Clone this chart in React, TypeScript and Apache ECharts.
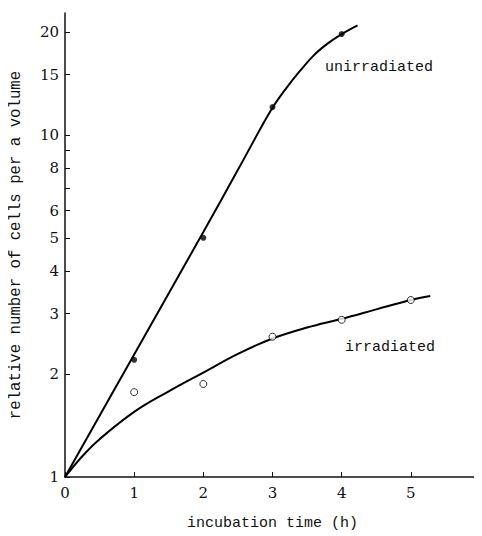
import React, { useEffect, useRef } from "react";
import * as echarts from "echarts";

// measured points
const xHours = [1, 2, 3, 4, 5];
const unirradiatedPoints = [2.2, 5.0, 12.05, 19.7];
const irradiatedPoints = [1.77, 1.87, 2.57, 2.88, 3.29];

// fitted curves
const unirradiatedCurveX = [0, 1, 2, 2.5, 2.8, 3.0, 3.2, 3.4, 3.6, 3.8, 4.0, 4.23];
const unirradiatedCurveY = [1, 2.28, 5.2, 7.9, 10.2, 12.0, 13.7, 15.4, 17.1, 18.5, 19.7, 20.9];
const irradiatedCurveX = [0, 0.25, 0.5, 1, 1.5, 2, 2.5, 3, 3.5, 4, 4.5, 5, 5.28];
const irradiatedCurveY = [1, 1.15, 1.29, 1.55, 1.78, 2.02, 2.29, 2.54, 2.735, 2.9, 3.09, 3.29, 3.38];

// axis ticks
const xTicks = [0, 1, 2, 3, 4, 5];
const yLabels = [1, 2, 3, 4, 5, 6, 8, 10, 15, 20];
const yTicks = [1, 2, 3, 4, 5, 6, 7, 8, 9, 10, 15, 20];

const NUM_FONT = "DejaVu Serif";
const TXT_FONT = "Liberation Mono";

export default function App() {
  const ref = useRef<HTMLDivElement>(null);
  useEffect(() => {
    if (!ref.current) return;
    const chart = echarts.init(ref.current, undefined, { renderer: "svg" });
    const pair = (xs: number[], ys: number[]) => xs.map((x, i) => [x, ys[i]]);
    chart.setOption({
      animation: false,
      backgroundColor: "#fff",
      grid: { left: 64, right: 2, top: 13, bottom: 54 },
      xAxis: {
        type: "value",
        min: 0,
        max: 6,
        name: "incubation time (h)",
        nameLocation: "middle",
        nameGap: 39,
        nameTextStyle: { fontFamily: TXT_FONT, fontSize: 15, color: "#111" },
        axisLine: { show: true, lineStyle: { color: "#111", width: 1.5 } },
        axisTick: { show: true, inside: true, length: 5, customValues: xTicks, lineStyle: { color: "#111" } },
        axisLabel: { customValues: xTicks, fontFamily: NUM_FONT, fontSize: 15, color: "#111", margin: 8 },
        splitLine: { show: false },
      },
      yAxis: {
        type: "log",
        logBase: 10,
        min: 1,
        max: 22.7,
        name: "relative number of cells per a volume",
        nameLocation: "middle",
        nameGap: 41,
        nameTextStyle: { fontFamily: TXT_FONT, fontSize: 15.7, color: "#111" },
        axisLine: { show: true, lineStyle: { color: "#111", width: 1.5 } },
        axisTick: { show: true, inside: true, length: 5, customValues: yTicks, lineStyle: { color: "#111" } },
        axisLabel: { customValues: yLabels, fontFamily: NUM_FONT, fontSize: 15, color: "#111", margin: 6 },
        splitLine: { show: false },
      },
      series: [
        {
          type: "line",
          data: pair(unirradiatedCurveX, unirradiatedCurveY),
          smooth: 0.4,
          showSymbol: false,
          lineStyle: { color: "#000", width: 2 },
          z: 2,
        },
        {
          type: "line",
          data: pair(irradiatedCurveX, irradiatedCurveY),
          smooth: 0.4,
          showSymbol: false,
          lineStyle: { color: "#000", width: 2 },
          z: 2,
        },
        {
          type: "scatter",
          data: pair(xHours.slice(0, 4), unirradiatedPoints),
          symbol: "circle",
          symbolSize: 6,
          itemStyle: { color: "#000" },
          z: 3,
        },
        {
          type: "scatter",
          data: pair(xHours, irradiatedPoints),
          symbol: "circle",
          symbolSize: 7,
          itemStyle: { color: "#fff", borderColor: "#000", borderWidth: 1 },
          z: 3,
        },
      ],
      graphic: [
        {
          type: "text",
          left: 325,
          top: 60,
          style: { text: "unirradiated", font: `15px "${TXT_FONT}"`, fill: "#111" },
        },
        {
          type: "text",
          left: 345,
          top: 340,
          style: { text: "irradiated", font: `15px "${TXT_FONT}"`, fill: "#111" },
        },
      ],
    });
    return () => chart.dispose();
  }, []);
  return <div ref={ref} style={{ width: 482, height: 536, marginLeft: -8, marginTop: -8 }} />;
}
